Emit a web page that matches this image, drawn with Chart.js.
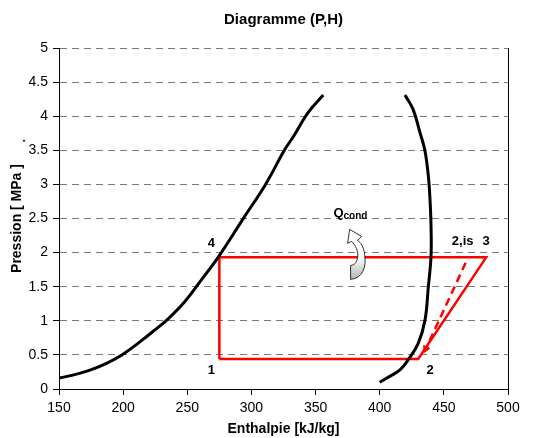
<!DOCTYPE html>
<html>
<head>
<meta charset="utf-8">
<script src="https://cdn.jsdelivr.net/npm/chart.js@4/dist/chart.umd.min.js"></script>
<style>
  body { margin: 0; background: #fff; }
  canvas { display: block; }
</style>
</head>
<body>
<canvas id="diagramme-ph" width="545" height="438"></canvas>
<script>
// courbe de saturation liquide
const liquideH = [150, 160, 173, 184, 199, 215, 225, 234, 248, 261, 274, 294, 311, 326, 333, 344, 356];
const liquideP = [0.16, 0.2, 0.27, 0.35, 0.5, 0.72, 0.87, 1.01, 1.28, 1.6, 1.93, 2.51, 3.0, 3.51, 3.71, 4.05, 4.31];

// courbe de saturation vapeur
const vapeurH = [400, 405.5, 415.8, 422.3, 430, 435.3, 437.9, 440, 440, 439.2, 437.9, 435.3, 431.4, 426, 419.7];
const vapeurP = [0.1, 0.16, 0.28, 0.43, 0.67, 1.01, 1.5, 1.95, 2.39, 2.78, 3.12, 3.49, 3.76, 4.1, 4.31];

// cycle 1 -> 2 -> 3 -> 4 -> 1
const cycleH = [275, 430, 483, 275, 275];
const cycleP = [0.44, 0.44, 1.93, 1.93, 0.44];

// compression isentropique (2,is)
const isH = [467, 436];
const isP = [1.85, 0.59];

const xTicks = [150, 200, 250, 300, 350, 400, 450, 500];
const yTicks = [0, 0.5, 1, 1.5, 2, 2.5, 3, 3.5, 4, 4.5, 5];

const POLICE = "'Liberation Sans', Arial, sans-serif";

const points = (hs, ps) => hs.map((h, i) => ({ x: h, y: ps[i] }));

// textes, fleche Qcond et titre
const annotations = {
  id: 'annotations',
  afterDatasetsDraw(chart) {
    const ctx = chart.ctx;
    const x = chart.scales.x;
    const y = chart.scales.y;
    const area = chart.chartArea;
    const px = (h) => x.getPixelForValue(h);
    const py = (p) => y.getPixelForValue(p);

    ctx.save();
    ctx.fillStyle = '#000';
    ctx.textAlign = 'center';
    ctx.textBaseline = 'middle';

    // titre
    ctx.font = 'bold 15px ' + POLICE;
    ctx.fillText('Diagramme (P,H)', (area.left + area.right) / 2, 20);

    // numeros des etats
    ctx.font = 'bold 13px ' + POLICE;
    ctx.fillText('1', px(cycleH[0]) - 8, py(cycleP[0]) + 11);
    ctx.fillText('2', px(cycleH[1]) + 12, py(cycleP[1]) + 11);
    ctx.fillText('3', px(cycleH[2]), py(cycleP[2]) - 16);
    ctx.fillText('4', px(cycleH[3]) - 8, py(cycleP[3]) - 14);
    ctx.fillText('2,is', px(isH[0]) - 3, py(cycleP[2]) - 16);

    // Q cond
    ctx.textAlign = 'left';
    ctx.textBaseline = 'alphabetic';
    ctx.font = 'bold 13px ' + POLICE;
    ctx.fillText('Q', px(364), py(2.52));
    ctx.font = 'bold 10px ' + POLICE;
    ctx.fillText('cond', px(364) + 10, py(2.5));

    // fleche courbe
    const cx = px(382), cy = py(1.93);
    const grad = ctx.createLinearGradient(0, cy - 28, 0, cy + 22);
    grad.addColorStop(0, '#ffffff');
    grad.addColorStop(0.55, '#ffffff');
    grad.addColorStop(1, '#b4b4b4');
    ctx.beginPath();
    ctx.moveTo(cx - 6, cy + 22);
    ctx.bezierCurveTo(cx + 6, cy + 21, cx + 10, cy + 10, cx + 8, cy - 3);
    ctx.bezierCurveTo(cx + 7, cy - 11, cx + 4, cy - 15, cx + 1, cy - 17);
    ctx.lineTo(cx + 5, cy - 21);
    ctx.lineTo(cx - 7, cy - 28);
    ctx.lineTo(cx - 9, cy - 14);
    ctx.lineTo(cx - 5, cy - 16);
    ctx.bezierCurveTo(cx - 1, cy - 12, cx + 2, cy - 6, cx + 1, cy);
    ctx.bezierCurveTo(cx, cy + 6, cx - 3, cy + 8, cx - 6, cy + 8);
    ctx.closePath();
    ctx.fillStyle = grad;
    ctx.fill();
    ctx.lineWidth = 0.8;
    ctx.strokeStyle = '#000';
    ctx.stroke();

    // petit point pres de la graduation 3.5
    ctx.fillStyle = '#000';
    ctx.beginPath();
    ctx.arc(area.left - 35, py(3.64), 1, 0, Math.PI * 2);
    ctx.fill();

    ctx.restore();
  }
};

var graficoPH = document.querySelector('#diagramme-ph').getContext('2d');

new Chart(graficoPH, {
  type: 'scatter',
  data: {
    datasets: [
      {
        label: 'liquide sature',
        data: points(liquideH, liquideP),
        showLine: true,
        borderColor: '#000',
        borderWidth: 3,
        pointRadius: 0,
        tension: 0.4
      },
      {
        label: 'vapeur saturee',
        data: points(vapeurH, vapeurP),
        showLine: true,
        borderColor: '#000',
        borderWidth: 3,
        pointRadius: 0,
        tension: 0.4
      },
      {
        label: 'cycle',
        data: points(cycleH, cycleP),
        showLine: true,
        borderColor: '#ff0000',
        borderWidth: 2.5,
        pointRadius: 0,
        tension: 0
      },
      {
        label: '2,is',
        data: points(isH, isP),
        showLine: true,
        borderColor: '#ff0000',
        backgroundColor: '#ff0000',
        borderWidth: 2.5,
        borderDash: [8, 5],
        pointStyle: 'triangle',
        pointRadius: [0, 4],
        pointBorderWidth: 1,
        pointRotation: 205,
        tension: 0
      }
    ]
  },
  options: {
    responsive: false,
    animation: false,
    layout: { padding: { left: 0, right: 37, top: 48, bottom: 0 } },
    plugins: {
      legend: { display: false },
      tooltip: { enabled: false },
      title: { display: false }
    },
    scales: {
      x: {
        type: 'linear',
        min: 150,
        max: 500,
        afterBuildTicks: (scale) => { scale.ticks = xTicks.map((v) => ({ value: v })); },
        afterFit: (scale) => { scale.height = 49; },
        ticks: {
          color: '#000',
          padding: 5,
          maxRotation: 0,
          callback: (v) => String(v),
          font: { family: POLICE, size: 14 }
        },
        grid: {
          color: (c) => (c.tick && c.tick.value === 500 ? '#000' : 'rgba(0,0,0,0)'),
          tickColor: '#000',
          tickLength: 6,
          lineWidth: 1
        },
        border: { color: '#000', width: 1 },
        title: {
          display: true,
          text: 'Enthalpie [kJ/kg]',
          color: '#000',
          font: { family: POLICE, size: 14, weight: 'bold' },
          padding: { top: 0, bottom: 0 }
        }
      },
      y: {
        type: 'linear',
        min: 0,
        max: 5,
        afterBuildTicks: (scale) => { scale.ticks = yTicks.map((v) => ({ value: v })); },
        afterFit: (scale) => { scale.width = 59; },
        ticks: {
          color: '#000',
          padding: 5,
          callback: (v) => String(v),
          font: { family: POLICE, size: 14 }
        },
        grid: {
          color: '#7a7a7a',
          tickColor: '#000',
          tickLength: 6,
          lineWidth: 1
        },
        border: { color: '#000', width: 1, dash: [7, 5] },
        title: {
          display: true,
          text: 'Pression [ MPa ]',
          color: '#000',
          font: { family: POLICE, size: 14, weight: 'bold' },
          padding: { top: 9, bottom: 0 }
        }
      }
    }
  },
  plugins: [annotations]
});
</script>
</body>
</html>
